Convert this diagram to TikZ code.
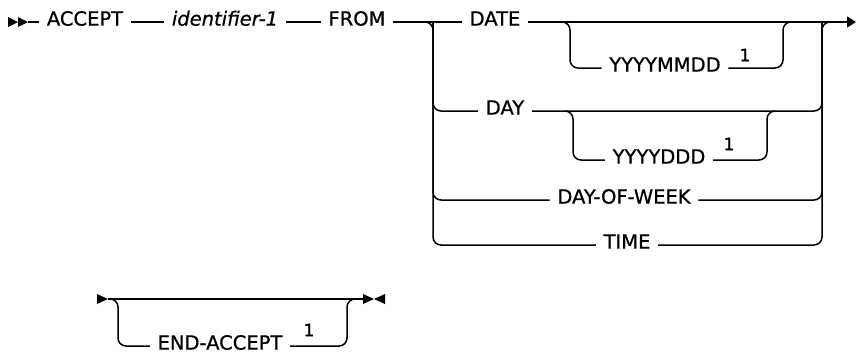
\documentclass[tikz,border=0pt]{standalone}
\usepackage{fontspec}
\setmainfont{DejaVu Sans}[FakeBold=0.8]
\usetikzlibrary{arrows.meta}
\begin{document}
\begin{tikzpicture}[x=1pt,y=-1pt,line width=1.5pt,font=\fontsize{19.5}{23}\selectfont,
  kw/.style={inner xsep=7pt,inner ysep=0pt,text height=0.72em,text depth=0pt},
  note/.style={font=\fontsize{17}{19}\selectfont,inner sep=0pt},
  rail/.style={rounded corners=8pt}]
\useasboundingbox (0,0) rectangle (856,354);

% Keywords
\node[kw] (accept) at (85,22) {ACCEPT};
\node[kw] (ident) at (225,22) {\textit{identifier-1}};
\node[kw] (from) at (357,22) {FROM};
\node[kw] (date) at (495,22) {DATE};
\node[kw] (ymd) at (665,68) {YYYYMMDD};
\node[kw] (day) at (505,111) {DAY};
\node[kw] (ydd) at (659,160) {YYYYDDD};
\node[kw] (dow) at (624,200) {DAY-OF-WEEK};
\node[kw] (time) at (627,245) {TIME};
\node[kw] (endacc) at (220,346) {END-ACCEPT};

% Footnote marks
\node[note] (n1) at (745,55) {1};
\node[note] (n2) at (729,144) {1};
\node[note] (n3) at (309,330) {1};

% Junctions
\coordinate (start) at (28,22);
\coordinate (stop) at (856,22);
\coordinate (oL) at (433,22);
\coordinate (oR) at (822,22);
\coordinate (iA) at (570,22);
\coordinate (iB) at (783,22);
\coordinate (jA) at (573,111);
\coordinate (jB) at (767,111);
\coordinate (s2) at (108,299);
\coordinate (e2) at (363,299);
\coordinate (kL) at (118,299);
\coordinate (kR) at (347,299);

% Main line
\fill (8,17) -- (18,22) -- (8,27) -- cycle;
\fill (18,17) -- (28,22) -- (18,27) -- cycle;
\draw (start) -- (accept) (accept) -- (ident) (ident) -- (from) (from) -- (date);
\draw[-{Triangle[length=9pt,width=11pt]}] (date) -- (stop);

% Outer choice
\draw[rail] ([xshift=-8pt]oL) -- (oL) -- (oL |- time) -- (time);
\draw[rail] (oL) -- (oL |- day) -- (day);
\draw[rail] (oL) -- (oL |- dow) -- (dow);
\draw[rail] (time) -- (oR |- time) -- (oR) -- ([xshift=8pt]oR);
\draw[rail] (day) -- (oR |- day) -- (oR);
\draw[rail] (dow) -- (oR |- dow) -- (oR);

% Optional YYYYMMDD
\draw[rail] ([xshift=-8pt]iA) -- (iA) -- (iA |- ymd) -- (ymd);
\draw[rail] (ymd) -- (iB |- ymd) -- (iB) -- ([xshift=8pt]iB);

% Optional YYYYDDD
\draw[rail] ([xshift=-8pt]jA) -- (jA) -- (jA |- ydd) -- (ydd);
\draw[rail] (ydd) -- (jB |- ydd) -- (jB) -- ([xshift=8pt]jB);

% Second line
\fill (97,294) -- (108,299) -- (97,304) -- cycle;
\draw (s2) -- (e2);
\draw[rail] ([xshift=-8pt]kL) -- (kL) -- (kL |- endacc) -- (endacc);
\draw[rail] (endacc) -- (kR |- endacc) -- (kR) -- ([xshift=8pt]kR);
\fill (363,294) -- (374,299) -- (363,304) -- cycle;
\fill (385,294) -- (374,299) -- (385,304) -- cycle;

\end{tikzpicture}
\end{document}
